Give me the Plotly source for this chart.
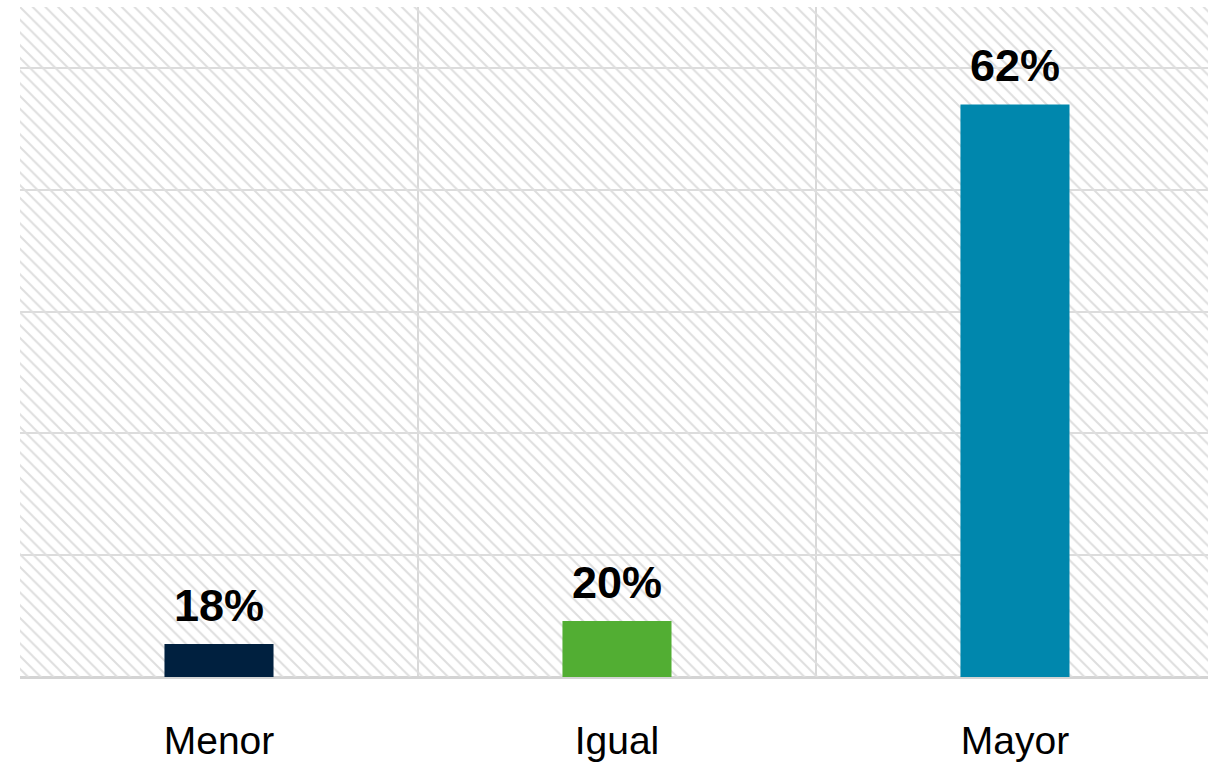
import plotly.graph_objects as go

# categories and values
categories = ["Menor", "Igual", "Mayor"]
bar_labels = ["18%", "20%", "62%"]
# bar heights as drawn (grid step = 10 units)
bar_heights = [2.7, 4.6, 47.0]
bar_colors = ["#00203f", "#52ae33", "#0087ad"]

y_top = 55
x_pos = list(range(len(categories)))

fig = go.Figure()

# hatched plot background
fig.add_trace(go.Bar(
    x=[1], y=[y_top], width=[3],
    marker=dict(color="rgba(0,0,0,0)",
                line=dict(width=0),
                pattern=dict(shape="\\", fgcolor="#dedede",
                             bgcolor="rgba(0,0,0,0)", size=9,
                             solidity=0.22, fillmode="replace")),
    hoverinfo="skip", showlegend=False,
))

fig.add_trace(go.Bar(
    x=x_pos, y=bar_heights, width=0.274,
    marker=dict(color=bar_colors, line=dict(width=0)),
    showlegend=False,
))

for i, (h, lab) in enumerate(zip(bar_heights, bar_labels)):
    fig.add_annotation(x=i, y=h, text="<b>" + lab + "</b>", showarrow=False,
                       yanchor="bottom", yshift=11,
                       font=dict(family="Liberation Sans", size=45,
                                 color="#000000"))

fig.update_layout(
    width=1208, height=762,
    margin=dict(l=20, r=0, t=7, b=85),
    paper_bgcolor="white", plot_bgcolor="white",
    barmode="overlay",
    font=dict(family="Liberation Sans", color="#000000"),
    xaxis=dict(
        range=[-0.5, 2.485],
        tickvals=x_pos, ticktext=categories,
        tickfont=dict(size=39),
        ticks="outside", ticklen=29, tickcolor="rgba(0,0,0,0)",
        showgrid=False, zeroline=False, showline=False,
        minor=dict(tickvals=[-0.5, 0.5, 1.5], showgrid=True,
                   gridcolor="#d9d9d9", gridwidth=2),
    ),
    yaxis=dict(
        range=[0, y_top], dtick=10,
        showticklabels=False,
        showgrid=True, gridcolor="#dcdcdc", gridwidth=1.5,
        zeroline=True, zerolinecolor="#d4d4d4", zerolinewidth=2.5,
        showline=False,
    ),
)

fig.write_html("out.html", config={"displayModeBar": False},
               post_script="document.body.style.margin='0';")
